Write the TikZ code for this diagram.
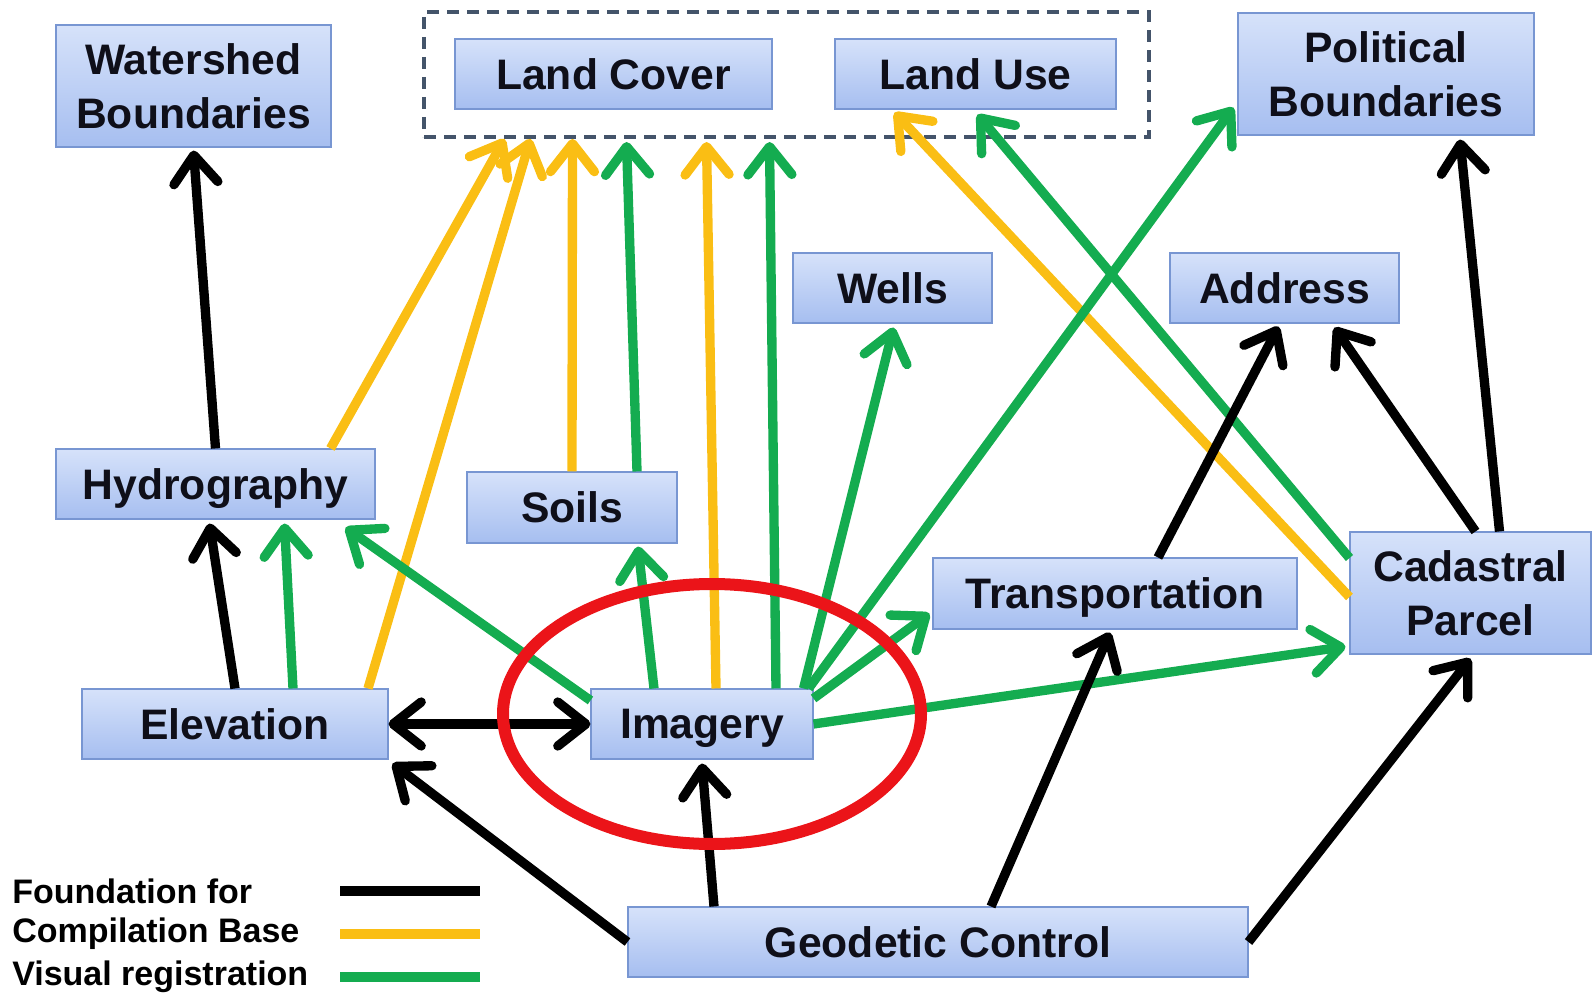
\documentclass[tikz,border=0pt]{standalone}
\usepackage{fontspec}
\setmainfont{Liberation Sans}
\usetikzlibrary{arrows.meta,calc,shapes.geometric}
\definecolor{boxtop}{RGB}{214,226,250}
\definecolor{boxbot}{RGB}{166,190,240}
\definecolor{boxline}{RGB}{120,150,210}
\definecolor{grpline}{RGB}{68,84,106}
\definecolor{cyel}{RGB}{250,190,20}
\definecolor{cgrn}{RGB}{20,172,80}
\definecolor{cred}{RGB}{235,20,25}
\definecolor{txt}{RGB}{15,15,25}
\tikzset{
  box/.style={draw=boxline, line width=0.8pt, top color=boxtop, bottom color=boxbot,
    inner sep=0pt, align=center, text=txt, text depth=0pt,
    font=\fontsize{32}{40.5}\selectfont\bfseries},
  arr/.style={line width=7pt, -{Straight Barb[length=21pt,width=33pt,round]}},
  darr/.style={line width=7pt, {Straight Barb[length=21pt,width=33pt,round]}-{Straight Barb[length=21pt,width=33pt,round]}},
  fnd/.style={arr, black},
  cmp/.style={arr, cyel},
  vis/.style={arr, cgrn},
  legtxt/.style={anchor=west, inner sep=0pt, text=black, font=\fontsize{25.5}{28}\selectfont\bfseries},
}
\begin{document}
\begin{tikzpicture}[x=0.75pt,y=-0.75pt]
\useasboundingbox (0,0) rectangle (1593,995);
% nodes
\node[draw=grpline, line width=3pt, dash pattern=on 9pt off 6pt, minimum width=543.75pt, minimum height=93.75pt, inner sep=0pt] (grp) at (786.5,74.5) {};
\node[box, minimum width=206.25pt, minimum height=91.5pt] (ws) at (193.5,86) {Watershed\\Boundaries};
\node[box, minimum width=237.75pt, minimum height=52.5pt] (lc) at (613.5,74) {Land Cover};
\node[box, minimum width=210.75pt, minimum height=52.5pt] (lu) at (975.5,74) {Land Use};
\node[box, minimum width=222pt, minimum height=91.5pt] (pol) at (1386,74) {Political\\Boundaries};
\node[box, minimum width=149.25pt, minimum height=52.5pt] (wells) at (892.5,288) {Wells};
\node[box, minimum width=171.75pt, minimum height=52.5pt] (addr) at (1284.5,288) {Address};
\node[box, minimum width=239.25pt, minimum height=52.5pt] (hydro) at (215.5,484) {Hydrography};
\node[box, minimum width=157.5pt, minimum height=53.25pt] (soils) at (572,507.5) {Soils};
\node[box, minimum width=273pt, minimum height=53.25pt] (trans) at (1115,593.5) {Transportation};
\node[box, minimum width=180.75pt, minimum height=91.5pt] (cad) at (1470.5,593) {Cadastral\\Parcel};
\node[box, minimum width=229.5pt, minimum height=52.5pt] (elev) at (235,724) {Elevation};
\node[box, minimum width=166.5pt, minimum height=52.5pt] (img) at (702,724) {Imagery};
\node[box, minimum width=465pt, minimum height=52.5pt] (geo) at (938,942) {Geodetic Control};

% compilation base (yellow)
\draw[cmp] ($(hydro.north)+(115,0)$) -- ($(grp.south)+(-282,0)$);
\draw[cmp] ($(elev.north)+(133,0)$) -- ($(grp.south)+(-256,0)$);
\draw[cmp] (soils.north) -- ($(grp.south)+(-214,0)$);
\draw[cmp] ($(img.north)+(14,0)$) -- ($(grp.south)+(-80,3)$);
\draw[cmp] ($(cad.west)+(0,4)$) -- ($(lu.south)+(-81,3)$);

% visual registration (green)
\draw[vis] ($(elev.north)+(58,0)$) -- ($(hydro.south)+(69,4)$);
\draw[vis] ($(img.north west)+(0,12)$) -- ($(hydro.south east)+(-30,8)$);
\draw[vis] ($(img.north)+(-48,0)$) -- ($(soils.south)+(66,3)$);
\draw[vis] ($(soils.north)+(65,0)$) -- ($(grp.south)+(-160,3)$);
\draw[vis] ($(img.north)+(74,0)$) -- ($(grp.south)+(-17,3)$);
\draw[vis] ($(img.north east)+(-10,0)$) -- ($(wells.south)+(1,4)$);
\draw[vis] ($(img.north east)+(-5,0)$) -- ($(pol.south west)+(-4,-28)$);
\draw[vis] ($(img.north east)+(0,10)$) -- ($(trans.west)+(-3,20)$);
\draw[vis] (img.east) -- ($(cad.south west)+(-4,-8)$);
\draw[vis] ($(cad.west)+(0,-35)$) -- ($(lu.south)+(2,5)$);

% foundation for (black)
\draw[fnd] (hydro.north) -- ($(ws.south)+(0,3)$);
\draw[fnd] (elev.north) -- ($(hydro.south)+(-6,4)$);
\draw[darr, black] (elev.east) -- (img.west);
\draw[fnd] (geo.west) -- ($(elev.south east)+(4,4)$);
\draw[fnd] ($(geo.north)+(-224,0)$) -- ($(img.south)+(0,4)$);
\draw[fnd] ($(geo.north)+(53,0)$) -- ($(trans.south)+(-5,3)$);
\draw[fnd] (geo.east) -- ($(cad.south)+(0,4)$);
\draw[fnd] ($(trans.north)+(43,0)$) -- ($(addr.south)+(-6,3)$);
\draw[fnd] ($(cad.north)+(5,0)$) -- ($(addr.south)+(50,4)$);
\draw[fnd] ($(cad.north)+(29,0)$) -- ($(pol.south)+(74,4)$);

% highlight ellipse
\draw[cred, line width=9pt] (712,714) ellipse [x radius=156.75pt, y radius=97.5pt];

% legend
\node[legtxt] (l1) at (12,891) {Foundation for};
\node[legtxt] (l2) at (12,934) {Compilation Base};
\node[legtxt] (l3) at (12,977) {Visual registration};
\draw[black, line width=7.5pt] (340,891) -- (480,891);
\draw[cyel, line width=7.5pt] (340,934) -- (480,934);
\draw[cgrn, line width=7.5pt] (340,977) -- (480,977);
\end{tikzpicture}
\end{document}
